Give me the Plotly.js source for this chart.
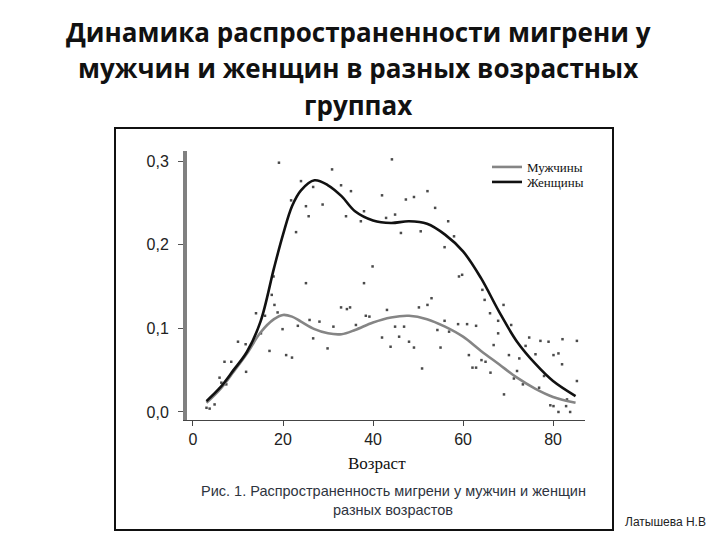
<!DOCTYPE html>
<html>
<head>
<meta charset="utf-8">
<script src="https://cdn.plot.ly/plotly-3.0.1.min.js"></script>
<style>html,body{margin:0;padding:0;background:#fff;}#chart{width:720px;height:540px;}</style>
</head>
<body>
<div id="chart"></div>
<script>
// Smoothed curves
var curveAge = [3, 6, 9, 12, 15, 18, 20, 22, 24, 27, 30, 33, 36, 40, 44, 48, 52, 56, 60, 64, 68, 72, 76, 80, 85];
var womenRate = [0.013, 0.029, 0.050, 0.072, 0.108, 0.172, 0.212, 0.246, 0.265, 0.277, 0.271, 0.258, 0.240, 0.229, 0.226, 0.228, 0.225, 0.212, 0.192, 0.160, 0.120, 0.084, 0.058, 0.037, 0.019];
var menRate = [0.011, 0.027, 0.048, 0.070, 0.095, 0.111, 0.116, 0.114, 0.108, 0.099, 0.094, 0.093, 0.098, 0.107, 0.113, 0.115, 0.111, 0.102, 0.090, 0.073, 0.057, 0.041, 0.028, 0.018, 0.011];

// Observed points
var pointAge = [19.1, 30.9, 44.2, 24.0, 26.7, 32.9, 35.1, 42.0, 49.1, 47.3, 52.1, 21.8, 25.1, 28.8, 53.8, 25.7, 34.0, 37.3, 38.0, 44.9, 42.9, 56.7, 22.9, 46.2, 50.6, 58.0, 55.9, 39.9, 38.0, 25.1, 59.1, 59.8, 17.9, 64.3, 64.8, 17.5, 53.0, 52.1, 50.2, 69.0, 18.1, 32.9, 34.2, 34.9, 43.1, 38.4, 39.2, 66.0, 14.0, 16.0, 18.8, 67.8, 25.9, 28.1, 55.9, 58.9, 60.9, 62.9, 70.7, 23.3, 31.2, 36.2, 44.9, 46.9, 54.3, 56.9, 19.9, 15.1, 67.8, 26.7, 42.0, 45.8, 48.0, 74.7, 77.2, 79.0, 82.1, 85.3, 10.0, 11.7, 29.9, 43.9, 49.1, 55.0, 66.8, 73.9, 76.1, 17.0, 61.3, 70.2, 80.1, 81.2, 20.7, 22.0, 72.5, 64.1, 65.0, 82.0, 7.0, 8.5, 62.1, 50.9, 62.9, 72.0, 66.1, 9.0, 11.8, 5.9, 78.0, 71.3, 85.3, 73.3, 76.9, 69.1, 79.4, 80.1, 81.2, 83.8, 82.9, 83.1, 3.0, 3.7, 4.8, 7.4, 6.3];
var pointRate = [0.298, 0.290, 0.302, 0.276, 0.269, 0.271, 0.264, 0.259, 0.257, 0.254, 0.264, 0.253, 0.246, 0.248, 0.244, 0.234, 0.234, 0.228, 0.240, 0.236, 0.232, 0.228, 0.215, 0.214, 0.216, 0.210, 0.197, 0.174, 0.154, 0.154, 0.162, 0.164, 0.162, 0.146, 0.134, 0.140, 0.136, 0.128, 0.125, 0.128, 0.128, 0.125, 0.123, 0.125, 0.122, 0.115, 0.114, 0.118, 0.118, 0.115, 0.119, 0.109, 0.110, 0.108, 0.109, 0.105, 0.105, 0.103, 0.104, 0.103, 0.102, 0.104, 0.102, 0.102, 0.098, 0.096, 0.099, 0.094, 0.094, 0.088, 0.089, 0.090, 0.084, 0.089, 0.085, 0.084, 0.087, 0.085, 0.084, 0.081, 0.076, 0.078, 0.077, 0.077, 0.080, 0.079, 0.069, 0.073, 0.068, 0.068, 0.068, 0.070, 0.068, 0.065, 0.064, 0.062, 0.060, 0.057, 0.060, 0.060, 0.053, 0.052, 0.053, 0.049, 0.047, 0.049, 0.048, 0.041, 0.043, 0.040, 0.037, 0.033, 0.029, 0.021, 0.008, 0.007, 0.000, 0.000, 0.007, 0.015, 0.005, 0.004, 0.009, 0.033, 0.035];

var xTicks = [0, 20, 40, 60, 80];
var yTicks = [0, 0.1, 0.2, 0.3];
var yTickText = ['0,0', '0,1', '0,2', '0,3'];
var seriesNames = ['Мужчины', 'Женщины'];
var titleLines = ['Динамика распространенности мигрени у', 'мужчин и женщин в разных возрастных', 'группах'];
var captionLines = ['Рис. 1. Распространенность мигрени у мужчин и женщин', 'разных возрастов'];
var xTitle = 'Возраст';
var author = 'Латышева Н.В';

var traces = [
  {x: pointAge, y: pointRate, type: 'scatter', mode: 'markers', showlegend: false, hoverinfo: 'skip',
   marker: {symbol: 'square', size: 2.5, color: '#4a4a4a'}},
  {x: curveAge, y: menRate, type: 'scatter', mode: 'lines', name: seriesNames[0], legend: 'legend',
   line: {color: '#858585', width: 2.6, shape: 'spline', smoothing: 1}},
  {x: curveAge, y: womenRate, type: 'scatter', mode: 'lines', name: seriesNames[1], legend: 'legend2',
   line: {color: '#111111', width: 2.6, shape: 'spline', smoothing: 1}}
];

function px2x(px) { return (px - 187) / 398; }
function px2y(py) { return (420 - py) / 269; }

var annotations = [];
var titleY = [32, 68, 105];
titleLines.forEach(function (t, i) {
  annotations.push({text: '<b>' + t + '</b>', xref: 'paper', yref: 'paper', x: px2x(358), y: px2y(titleY[i]),
    xanchor: 'center', yanchor: 'middle', showarrow: false,
    font: {family: 'Open Sans, sans-serif', size: 26, color: '#111'}});
});
var capY = [491, 510];
captionLines.forEach(function (t, i) {
  annotations.push({text: t, xref: 'paper', yref: 'paper', x: px2x(393), y: px2y(capY[i]),
    xanchor: 'center', yanchor: 'middle', showarrow: false,
    font: {family: 'Liberation Sans, Arial, sans-serif', size: 14.5, color: '#2e3440'}});
});
annotations.push({text: xTitle, xref: 'paper', yref: 'paper', x: px2x(377), y: px2y(463),
  xanchor: 'center', yanchor: 'middle', showarrow: false,
  font: {family: 'Liberation Serif, serif', size: 17, color: '#111'}});
annotations.push({text: author, xref: 'paper', yref: 'paper', x: px2x(623), y: px2y(522),
  xanchor: 'left', yanchor: 'middle', showarrow: false,
  font: {family: 'Liberation Sans, Arial, sans-serif', size: 12, color: '#222'}});

var legendFont = {family: 'Liberation Serif, serif', size: 13, color: '#111'};
var layout = {
  width: 720, height: 540,
  margin: {l: 187, r: 135, t: 151, b: 120, pad: 0},
  paper_bgcolor: '#fff', plot_bgcolor: '#fff',
  showlegend: true,
  legend: {x: px2x(487), y: px2y(167), xanchor: 'left', yanchor: 'middle', bgcolor: 'rgba(0,0,0,0)', font: legendFont},
  legend2: {x: px2x(487), y: px2y(182), xanchor: 'left', yanchor: 'middle', bgcolor: 'rgba(0,0,0,0)', font: legendFont},
  xaxis: {range: [-1.33, 87.1], tickvals: xTicks, ticks: 'outside', ticklen: 5, tickcolor: '#444', tickwidth: 1,
    showline: true, linecolor: '#444', linewidth: 1, showgrid: false, zeroline: false,
    tickfont: {family: 'Liberation Sans, Arial, sans-serif', size: 16, color: '#222'}},
  yaxis: {range: [-0.0096, 0.312], tickvals: yTicks, ticktext: yTickText, ticks: 'outside', ticklen: 5,
    tickcolor: '#555', tickwidth: 1, showline: true, linecolor: '#808080', linewidth: 4,
    showgrid: false, zeroline: false, ticklabelstandoff: 6,
    tickfont: {family: 'Liberation Sans, Arial, sans-serif', size: 16, color: '#222'}},
  shapes: [{type: 'rect', xref: 'paper', yref: 'paper', x0: px2x(115), x1: px2x(613), y0: px2y(530), y1: px2y(128),
    line: {color: '#111', width: 2}, fillcolor: 'rgba(0,0,0,0)', layer: 'below'}],
  annotations: annotations
};

Plotly.newPlot('chart', traces, layout, {displayModeBar: false, staticPlot: true});
</script>
</body>
</html>
